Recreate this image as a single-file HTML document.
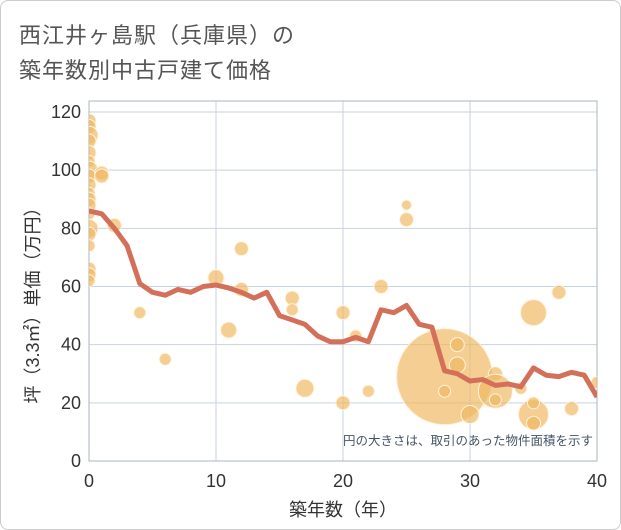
<!DOCTYPE html>
<html><head><meta charset="utf-8"><style>
body{margin:0;background:#fff;font-family:"Liberation Sans","Noto Sans CJK JP",sans-serif;}
#wrap{position:relative;width:619px;height:528px;border:1px solid #ccc;border-radius:8px;overflow:hidden;}
.t{position:absolute;left:18px;font-size:22px;color:#555;letter-spacing:1px}
</style></head><body>
<div id="wrap">
<div class="t" style="top:17px">西江井ヶ島駅（兵庫県）の</div>
<div class="t" style="top:52px">築年数別中古戸建て価格</div>
<svg id="c" width="621" height="530" style="position:absolute;left:0;top:0"></svg>
</div>
<script>
const years=[0,1,2,3,4,5,6,7,8,9,10,11,12,13,14,15,16,17,18,19,20,21,22,23,24,25,26,27,28,29,30,31,32,33,34,35,36,37,38,39,40];
const avgPrice=[86,85,80,74,61,58,57,59,58,60,60.5,59.5,58,56,58,50,48.5,47,43,41,41,42.5,41,52,51,53.5,47,46,31,30,27.5,28,26,26.5,25.5,32,29.5,29,30.5,29.5,22];
const bubbleX=[0,0,0,0,0,0,0,0,0,0,0,0,0,0,0,0,0,0,0,1,1,2,4,6,10,11,12,12,16,16,17,20,20,21,22,23,25,25,28,28,29,29,30,32,32,32,34,35,35,35,35,37,38,40];
const bubbleY=[117,115,112,110,106,103,100,98,95,92,90,88,85,80,78,74,66,64,62,99,98,81,51,35,63,45,73,59,56,52,25,51,20,43,24,60,88,83,29,24,40,33,16,30,24,21,25,51,16,20,13,58,18,27];
const bubbleR=[7,7,9,7,7,6,9,7,7,6,7,7,6,9,7,6,7,7,6,7,7,7,6,6,8,8,7,7,7,6,9,7,7,6,6,7,5,7,48,6,7,8,9,7,17,6,6,13,15,6,7,7,7,6];
const xTicks=[0,10,20,30,40];
const yTicks=[0,20,40,60,80,100,120];
const svg=document.getElementById('c');
const NS='http://www.w3.org/2000/svg';
const X0=88,X1=596,Y0=460,Y1=111;
const sx=v=>X0+(v/40)*(X1-X0);
const sy=v=>Y0-(v/120)*(Y0-Y1);
function mk(t,a){const e=document.createElementNS(NS,t);for(const k in a)e.setAttribute(k,a[k]);svg.appendChild(e);return e;}
const clip=mk('clipPath',{id:'pc'});
const cr=document.createElementNS(NS,'rect');cr.setAttribute('x',X0);cr.setAttribute('y',100);cr.setAttribute('width',X1-X0);cr.setAttribute('height',Y0-100);clip.appendChild(cr);
xTicks.forEach(v=>{const l=mk('line',{x1:sx(v),x2:sx(v),y1:100,y2:Y0,stroke:'#c8d3e0','stroke-width':1});

const t=mk('text',{x:sx(v),y:486,'text-anchor':'middle','font-size':18,fill:'#333'});t.textContent=v;
});
yTicks.forEach(v=>{const l=mk('line',{x1:X0,x2:X1,y1:sy(v),y2:sy(v),stroke:'#c8d3e0','stroke-width':1});

const t=mk('text',{x:80,y:sy(v)+6,'text-anchor':'end','font-size':18,fill:'#333'});t.textContent=v;
});
const fr=mk('rect',{x:X0,y:100,width:X1-X0,height:Y0-100,fill:'none',stroke:'#aab4c0','stroke-width':1});

const g=mk('g',{'clip-path':'url(#pc)'});
bubbleX.forEach((v,i)=>{const c=document.createElementNS(NS,'circle');
c.setAttribute('cx',sx(v));c.setAttribute('cy',sy(bubbleY[i]));c.setAttribute('r',bubbleR[i]);
c.setAttribute('fill','rgba(240,185,100,0.7)');c.setAttribute('stroke','#fff3dc');c.setAttribute('stroke-width',1);
g.appendChild(c);});
const pl=document.createElementNS(NS,'polyline');
pl.setAttribute('points',years.map((v,i)=>sx(v)+','+sy(avgPrice[i])).join(' '));
pl.setAttribute('fill','none');pl.setAttribute('stroke','#d4705a');pl.setAttribute('stroke-width',5);pl.setAttribute('stroke-linejoin','round');
g.appendChild(pl);
const note=mk('text',{x:592,y:444,'text-anchor':'end','font-size':12.5,fill:'#445566'});note.textContent='円の大きさは、取引のあった物件面積を示す';

const xt=mk('text',{x:342,y:515,'text-anchor':'middle','font-size':18,fill:'#333'});xt.textContent='築年数（年）';

const yt=mk('text',{x:0,y:0,'text-anchor':'middle','font-size':18,fill:'#333',transform:'translate(38,300) rotate(-90)'});yt.textContent='坪（3.3㎡）単価（万円）';

</script>
</body></html>
